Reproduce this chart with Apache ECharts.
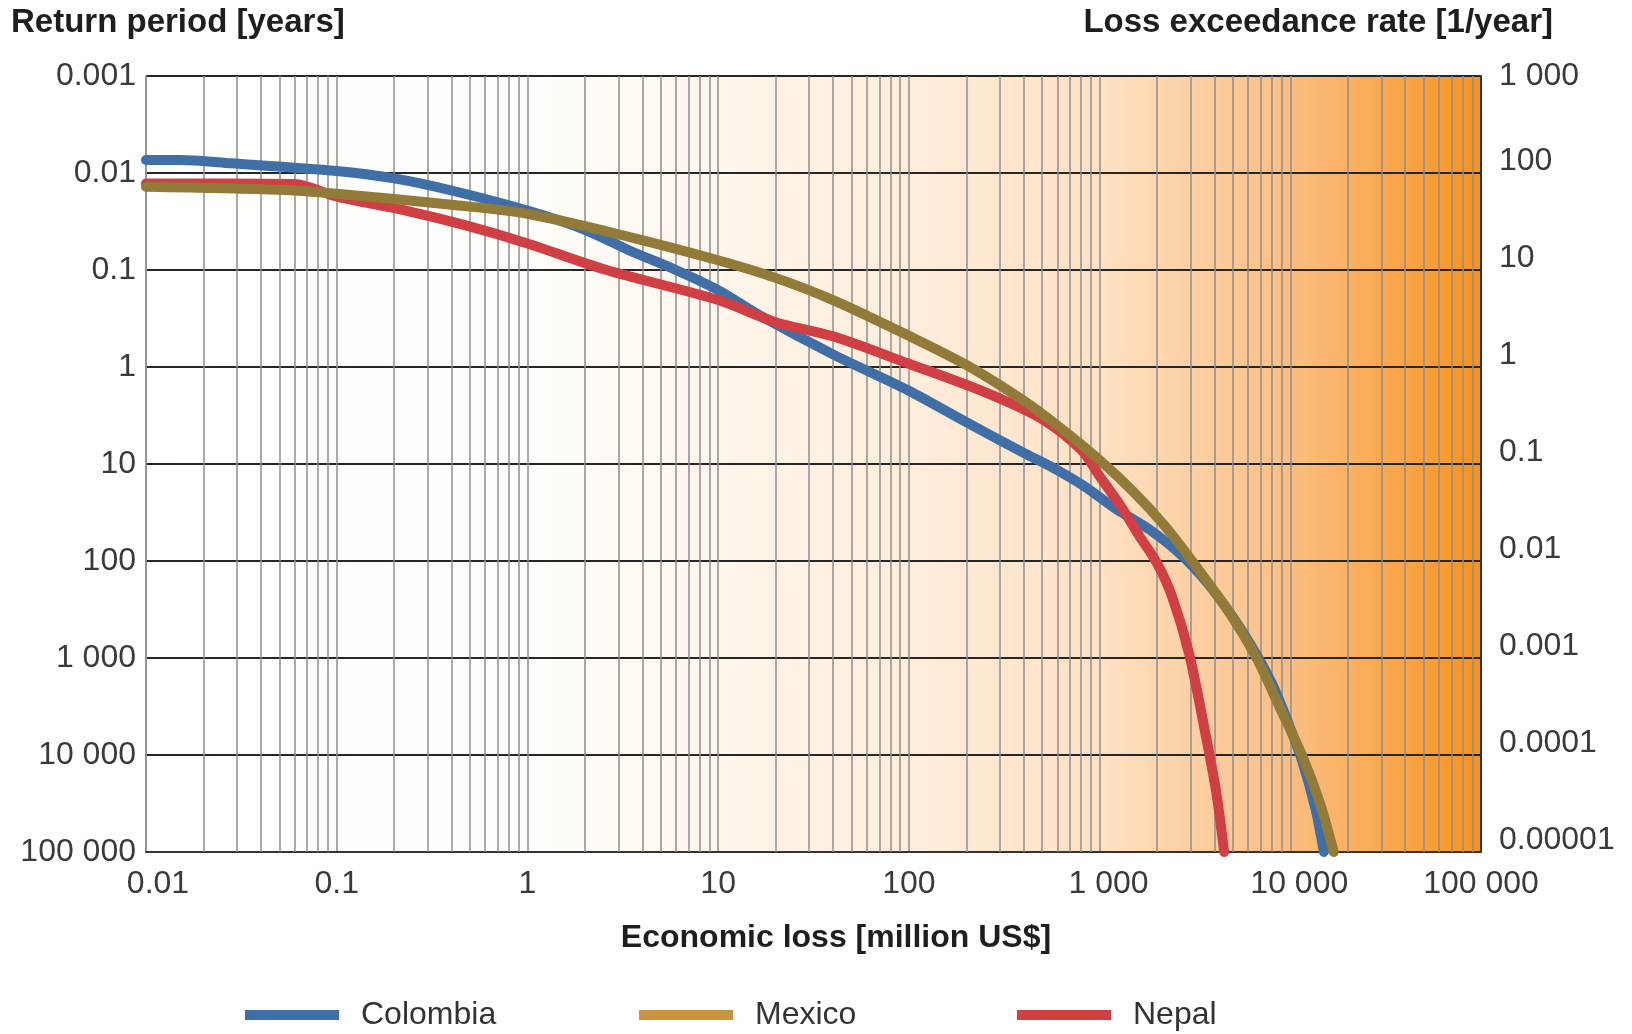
<!DOCTYPE html>
<html>
<head>
  <meta charset="utf-8">
  <title>Loss exceedance curves</title>
  <script src="https://cdn.jsdelivr.net/npm/echarts@6/dist/echarts.min.js"></script>
  <style>
    html, body { margin: 0; padding: 0; background: #fff; }
    #main { width: 1632px; height: 1034px; }
  </style>
</head>
<body>
<div id="main"></div>
<script>
  // economic loss [million US$] and loss exceedance rate [1/year]
  var colombiaLoss = [0.01, 0.015, 0.028, 0.1, 0.2, 0.4, 1, 2, 3.4, 6, 10, 17, 40, 100, 200, 400, 550, 820, 1230, 1835, 2750, 4110, 6160, 8000, 9800, 11700, 13600, 15000];
  var colombiaRate = [136, 136, 126, 105, 88, 66, 41, 26, 16, 10, 6.2, 3.3, 1.35, 0.57, 0.27, 0.13, 0.095, 0.06, 0.034, 0.021, 0.011, 0.0045, 0.0014, 0.00055, 0.00021, 0.00008, 0.000027, 0.00001];

  var mexicoLoss = [0.01, 0.05, 0.1, 0.4, 1, 3.4, 10, 20, 40, 100, 200, 400, 600, 1000, 1500, 2200, 3000, 4700, 6650, 8800, 11500, 14300, 16900];
  var mexicoRate = [72, 67, 61, 47, 38, 22, 12.6, 8.3, 4.9, 2.1, 1.05, 0.45, 0.25, 0.11, 0.052, 0.023, 0.0105, 0.0031, 0.001, 0.00031, 0.0001, 0.000032, 0.00001];

  var nepalLoss = [0.01, 0.06, 0.1, 0.23, 0.47, 1, 2.6, 10, 20, 40, 100, 250, 500, 800, 1000, 1300, 1650, 2000, 2400, 2950, 3650, 4100, 4500];
  var nepalRate = [78, 77, 57, 41, 29, 18.8, 10, 4.9, 2.9, 2.07, 1.08, 0.55, 0.29, 0.14, 0.075, 0.036, 0.017, 0.0095, 0.0043, 0.0011, 0.00014, 0.00004, 0.00001];

  // tick labels, indexed from the lowest decade upwards
  var xTickLabels = ['0.01', '0.1', '1', '10', '100', '1 000', '10 000', '100 000'];
  var returnPeriodLabels = ['100 000', '10 000', '1 000', '100', '10', '1', '0.1', '0.01', '0.001'];
  var rateLabels = ['0.00001', '0.0001', '0.001', '0.01', '0.1', '1', '10', '100', '1 000'];

  var FONT = '"Liberation Sans", Arial, Helvetica, sans-serif';

  function pairs(xs, ys) {
    return xs.map(function (x, i) { return [x, ys[i]]; });
  }
  function expOf(v) {
    return Math.round(Math.log(v) / Math.LN10);
  }

  // 2..9 gridlines inside each decade
  var minorX = [];
  for (var d = -2; d < 5; d++) {
    for (var m = 2; m <= 9; m++) {
      minorX.push({ xAxis: m * Math.pow(10, d) });
    }
  }

  var chart = echarts.init(document.getElementById('main'));

  var option = {
    animation: false,
    backgroundColor: '#ffffff',
    textStyle: { fontFamily: FONT },
    grid: {
      left: 146, right: 151, top: 76, bottom: 182,
      show: true,
      borderWidth: 0,
      outerBoundsMode: 'none',
      backgroundColor: new echarts.graphic.LinearGradient(0, 0, 1, 0, [
        { offset: 0, color: '#ffffff' },
        { offset: 2 / 7, color: '#fffdfa' },
        { offset: 3 / 7, color: '#fff6ec' },
        { offset: 4 / 7, color: '#ffeddb' },
        { offset: 5 / 7, color: '#fee1c4' },
        { offset: 6 / 7, color: '#fbbe82' },
        { offset: 1, color: '#f7921d' }
      ])
    },
    xAxis: {
      type: 'log',
      logBase: 10,
      min: 0.01,
      max: 100000,
      axisLine: { show: true, onZero: false, lineStyle: { color: '#333', width: 2 } },
      axisTick: { show: false },
      splitLine: { show: true, lineStyle: { color: '#8e8e8e', width: 1.5 } },
      axisLabel: {
        margin: 16,
        fontSize: 32,
        color: '#3a3a3a',
        fontFamily: FONT,
        formatter: function (v) {
          var i = expOf(v) + 2;
          if (i === 0) return '{first|' + xTickLabels[i] + '}';
          if (i === 5 || i === 6) return '{shift|' + xTickLabels[i] + '}';
          return xTickLabels[i];
        },
        rich: {
          first: { fontSize: 32, color: '#3a3a3a', fontFamily: FONT, padding: [0, 0, 0, 24] },
          shift: { fontSize: 32, color: '#3a3a3a', fontFamily: FONT, padding: [0, 0, 0, 18] }
        }
      }
    },
    yAxis: [
      {
        type: 'log',
        logBase: 10,
        min: 0.00001,
        max: 1000,
        position: 'left',
        axisLine: { show: true, lineStyle: { color: '#8e8e8e', width: 1.5 } },
        axisTick: { show: false },
        splitLine: { show: true, lineStyle: { color: '#262626', width: 2 } },
        axisLabel: {
          margin: 10,
          fontSize: 32,
          color: '#3a3a3a',
          fontFamily: FONT,
          formatter: function (v) { return returnPeriodLabels[expOf(v) + 5]; }
        }
      },
      {
        type: 'log',
        logBase: 10,
        min: 0.00001,
        max: 1000,
        position: 'right',
        axisLine: { show: true, lineStyle: { color: '#333', width: 2 } },
        axisTick: { show: false },
        splitLine: { show: false },
        axisLabel: {
          margin: 18,
          fontSize: 32,
          color: '#3a3a3a',
          fontFamily: FONT,
          formatter: function (v) {
            var i = expOf(v) + 5;
            if (i === rateLabels.length - 1) return '{t|' + rateLabels[i] + '}';
            return '{u|' + rateLabels[i] + '}';
          },
          rich: {
            t: { fontSize: 32, color: '#3a3a3a', fontFamily: FONT },
            u: { fontSize: 32, color: '#3a3a3a', fontFamily: FONT, padding: [0, 0, 24, 0] }
          }
        }
      }
    ],
    legend: [
      {
        left: 245, top: 999, padding: 0,
        icon: 'rect', itemWidth: 94, itemHeight: 10,
        textStyle: { fontSize: 32, color: '#333', fontFamily: FONT, padding: [0, 0, 0, 17] },
        data: [{ name: 'Colombia', itemStyle: { color: '#3f6fa6' } }]
      },
      {
        left: 639, top: 999, padding: 0,
        icon: 'rect', itemWidth: 94, itemHeight: 10,
        textStyle: { fontSize: 32, color: '#333', fontFamily: FONT, padding: [0, 0, 0, 17] },
        data: [{ name: 'Mexico', itemStyle: { color: '#c8963c' } }]
      },
      {
        left: 1017, top: 999, padding: 0,
        icon: 'rect', itemWidth: 94, itemHeight: 10,
        textStyle: { fontSize: 32, color: '#333', fontFamily: FONT, padding: [0, 0, 0, 17] },
        data: [{ name: 'Nepal', itemStyle: { color: '#cf3f44' } }]
      }
    ],
    graphic: [
      {
        type: 'text', x: 11, y: 23,
        style: { text: 'Return period [years]', font: 'bold 33px ' + FONT, fill: '#1e1e1e',
          textAlign: 'left', align: 'left', textVerticalAlign: 'middle', verticalAlign: 'middle' }
      },
      {
        type: 'text', x: 1553, y: 23,
        style: { text: 'Loss exceedance rate [1/year]', font: 'bold 33px ' + FONT, fill: '#1e1e1e',
          textAlign: 'right', align: 'right', textVerticalAlign: 'middle', verticalAlign: 'middle' }
      },
      {
        type: 'text', x: 836, y: 938,
        style: { text: 'Economic loss [million US$]', font: 'bold 32px ' + FONT, fill: '#1e1e1e',
          textAlign: 'center', align: 'center', textVerticalAlign: 'middle', verticalAlign: 'middle' }
      }
    ],
    series: [
      {
        name: 'minor grid',
        type: 'line',
        data: [],
        silent: true,
        z: 1,
        markLine: {
          silent: true,
          z: 1,
          symbol: ['none', 'none'],
          label: { show: false },
          lineStyle: { color: '#8e8e8e', width: 1.5, type: 'solid' },
          data: minorX
        }
      },
      {
        name: 'Colombia',
        type: 'line',
        data: pairs(colombiaLoss, colombiaRate),
        showSymbol: false,
        smooth: 0.3,
        clip: false,
        z: 3,
        lineStyle: { color: '#3f6fa6', width: 10, cap: 'round', join: 'round' },
        itemStyle: { color: '#3f6fa6' }
      },
      {
        name: 'Nepal',
        type: 'line',
        data: pairs(nepalLoss, nepalRate),
        showSymbol: false,
        smooth: 0.3,
        clip: false,
        z: 4,
        lineStyle: { color: '#cf3f44', width: 10, cap: 'round', join: 'round' },
        itemStyle: { color: '#cf3f44' }
      },
      {
        name: 'Mexico',
        type: 'line',
        data: pairs(mexicoLoss, mexicoRate),
        showSymbol: false,
        smooth: 0.3,
        clip: false,
        z: 5,
        lineStyle: { color: '#927b38', width: 10, cap: 'round', join: 'round' },
        itemStyle: { color: '#927b38' }
      }
    ]
  };

  chart.setOption(option);
</script>
</body>
</html>
